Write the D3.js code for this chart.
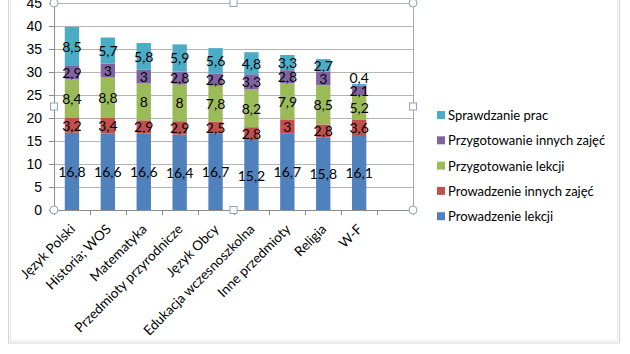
<!DOCTYPE html>
<html>
<head>
<meta charset="utf-8">
<script src="https://cdn.jsdelivr.net/npm/d3@7"></script>
<style>
  body { margin: 0; background: #fff; }
  svg { font-family: Lato, "Open Sans", sans-serif; }
</style>
</head>
<body>
<div id="chart"></div>
<script>
// categories (last slot is empty in the original sheet)
var categories = ["Język Polski", "Historia; WOS", "Matematyka", "Przedmioty przyrodnicze",
  "Język Obcy", "Edukacja wczesnoszkolna", "Inne przedmioty", "Religia", "W-F", ""];

var seriesNames = ["Prowadzenie lekcji", "Prowadzenie innych zajęć", "Przygotowanie lekcji",
  "Przygotowanie innych zajęć", "Sprawdzanie prac"];

var prowadzenieLekcji = [16.8, 16.6, 16.6, 16.4, 16.7, 15.2, 16.7, 15.8, 16.1];
var prowadzenieInnych = [3.2, 3.4, 2.9, 2.9, 2.5, 2.8, 3, 2.8, 3.6];
var przygotowanieLekcji = [8.4, 8.8, 8, 8, 7.8, 8.2, 7.9, 8.5, 5.2];
var przygotowanieInnych = [2.9, 3, 3, 2.8, 2.6, 3.3, 2.8, 3, 2.1];
var sprawdzaniePrac = [8.5, 5.7, 5.8, 5.9, 5.6, 4.8, 3.3, 2.7, 0.4];

var yTicks = [0, 5, 10, 15, 20, 25, 30, 35, 40, 45];

var colors = ["#4F81BD", "#C0504D", "#9BBB59", "#8064A2", "#4BACC6"];

var allSeries = [prowadzenieLekcji, prowadzenieInnych, przygotowanieLekcji, przygotowanieInnych, sprawdzaniePrac];

// Dimensions
var margin = { top: 3, left: 54 },
    width = 359,
    height = 207;

var svg = d3.select("#chart")
  .append("svg")
  .attr("width", 630)
  .attr("height", 354);

// outer chart frame
svg.append("rect")
  .attr("x", 8.5).attr("y", -10)
  .attr("width", 611).attr("height", 353)
  .attr("fill", "none").attr("stroke", "#d4d4d4");
svg.append("rect")
  .attr("x", 10.5).attr("y", -10)
  .attr("width", 607).attr("height", 351)
  .attr("fill", "none").attr("stroke", "#e6e6e6");

var g = svg.append("g")
  .attr("transform", "translate(" + margin.left + "," + margin.top + ")");

var x = d3.scaleBand()
  .domain(categories.map(function(d, i) { return i; }))
  .range([0, width])
  .paddingInner(0.6)
  .paddingOuter(0.3);

var y = d3.scaleLinear()
  .domain([0, 45])
  .range([height, 0]);

// gridlines
g.selectAll(".grid")
  .data(yTicks.slice(1))
  .enter()
  .append("line")
  .attr("x1", 0).attr("x2", width)
  .attr("y1", function(d) { return Math.round(y(d)) + 0.5; })
  .attr("y2", function(d) { return Math.round(y(d)) + 0.5; })
  .attr("stroke", "#b4b4b4");

// stacked data
var stackData = categories.slice(0, 9).map(function(c, i) {
  var o = { idx: i };
  seriesNames.forEach(function(s, k) { o[s] = allSeries[k][i]; });
  return o;
});
var stacked = d3.stack().keys(seriesNames)(stackData);

var layers = g.selectAll(".layer")
  .data(stacked)
  .enter()
  .append("g")
  .attr("fill", function(d, k) { return colors[k]; });

layers.selectAll("rect")
  .data(function(d) { return d; })
  .enter()
  .append("rect")
  .attr("x", function(d) { return x(d.data.idx); })
  .attr("y", function(d) { return y(d[1]); })
  .attr("width", x.bandwidth())
  .attr("height", function(d) { return y(d[0]) - y(d[1]); });

// data labels
var fmt = function(v) { return String(v).replace(".", ","); };
layers.selectAll("text")
  .data(function(d) { return d.map(function(p) { return { p: p, key: d.key }; }); })
  .enter()
  .append("text")
  .attr("x", function(d) { return x(d.p.data.idx) + x.bandwidth() / 2; })
  .attr("y", function(d) {
    var h = y(d.p[0]) - y(d.p[1]);
    if (h < 6) return y(d.p[1]) - 6;
    return (y(d.p[0]) + y(d.p[1])) / 2;
  })
  .attr("text-anchor", "middle")
  .attr("dominant-baseline", "central")
  .attr("fill", "#000")
  .style("font-size", "14px")
  .text(function(d) { return fmt(d.p.data[d.key]); });

// y axis
var yAxis = g.append("g")
  .call(d3.axisLeft(y).tickValues(yTicks).tickSize(5).tickPadding(7));
yAxis.select(".domain").attr("stroke", "#8c8c8c");
yAxis.selectAll(".tick line").attr("stroke", "#8c8c8c");
yAxis.selectAll("text").style("font-size", "14px").attr("fill", "#000");

// x axis
g.append("line")
  .attr("x1", 0).attr("x2", width)
  .attr("y1", height + 0.5).attr("y2", height + 0.5)
  .attr("stroke", "#8c8c8c");
g.selectAll(".xtick")
  .data(d3.range(categories.length + 1))
  .enter()
  .append("line")
  .attr("x1", function(i) { return Math.round(i * x.step()) + 0.5; })
  .attr("x2", function(i) { return Math.round(i * x.step()) + 0.5; })
  .attr("y1", height).attr("y2", height + 5)
  .attr("stroke", "#8c8c8c");

g.selectAll(".xlabel")
  .data(categories)
  .enter()
  .append("text")
  .attr("transform", function(d, i) {
    return "translate(" + (x(i) + x.bandwidth() / 2 + 4) + "," + (height + 20) + ") rotate(-45)";
  })
  .attr("text-anchor", "end")
  .style("font-size", "13.5px")
  .attr("fill", "#000")
  .text(function(d) { return d; });

// legend
var legend = svg.selectAll(".legend")
  .data(seriesNames.slice().reverse())
  .enter()
  .append("g")
  .attr("transform", function(d, i) { return "translate(437," + (115 + i * 25.3) + ")"; });
legend.append("rect")
  .attr("x", 0).attr("y", -4)
  .attr("width", 8).attr("height", 8)
  .attr("fill", function(d) { return colors[seriesNames.indexOf(d)]; });
legend.append("text")
  .attr("x", 11).attr("y", 0)
  .attr("dominant-baseline", "central")
  .style("font-size", "13px")
  .attr("fill", "#000")
  .text(function(d) { return d; });

// plot area selection handles
var handleColor = "#8fa3bd";
var corners = [[0, 0], [width, 0], [0, height], [width, height]];
var mids = [[width / 2, 0], [0, height / 2], [width, height / 2], [width / 2, height]];
g.append("line")
  .attr("x1", width + 0.5).attr("x2", width + 0.5)
  .attr("y1", 0).attr("y2", height)
  .attr("stroke", "#a8a8a8");
g.selectAll(".hc")
  .data(corners)
  .enter()
  .append("circle")
  .attr("cx", function(d) { return d[0]; })
  .attr("cy", function(d) { return d[1]; })
  .attr("r", 4)
  .attr("fill", "#fff")
  .attr("stroke", handleColor);
g.selectAll(".hs")
  .data(mids)
  .enter()
  .append("rect")
  .attr("x", function(d) { return d[0] - 3.5; })
  .attr("y", function(d) { return d[1] - 3.5; })
  .attr("width", 7).attr("height", 7)
  .attr("fill", "#fff")
  .attr("stroke", handleColor);
</script>
</body>
</html>
